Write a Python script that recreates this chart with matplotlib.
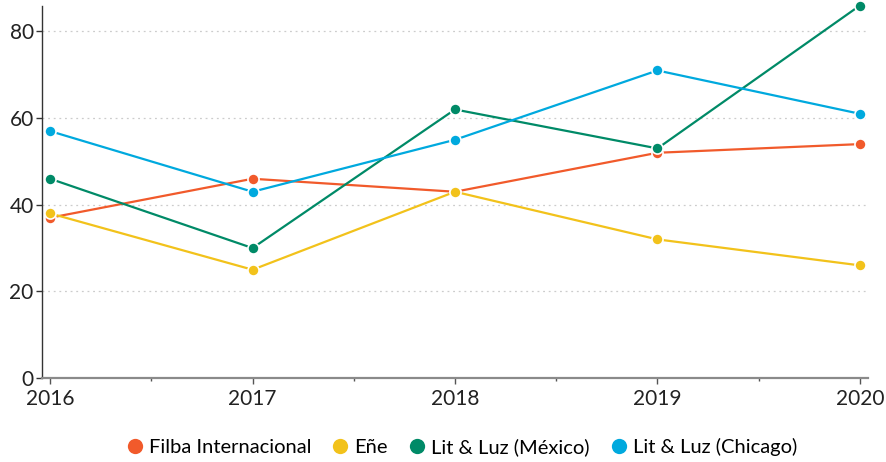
import matplotlib
matplotlib.use("Agg")
import matplotlib.pyplot as plt
from matplotlib.ticker import MultipleLocator
from matplotlib.lines import Line2D

plt.rcParams['font.family'] = ['Lato', 'DejaVu Sans']

years = [2016, 2017, 2018, 2019, 2020]
series_names = ["Filba Internacional", "Eñe", "Lit & Luz (México)", "Lit & Luz (Chicago)"]
filba = [37, 46, 43, 52, 54]
ene = [38, 25, 43, 32, 26]
mexico = [46, 30, 62, 53, 86]
chicago = [57, 43, 55, 71, 61]
colors = ["#F15A2B", "#F2C21B", "#008A67", "#00A9DE"]

W, H = 887, 462
fig = plt.figure(figsize=(W / 100, H / 100), dpi=100)
left, right, top, bottom = 42, 868, 5.5, 378
ax = fig.add_axes([left / W, 1 - bottom / H, (right - left) / W, (bottom - top) / H])

for vals, c in zip([filba, ene, mexico, chicago], colors):
    ax.plot(years, vals, color=c, lw=1.6, marker="o", ms=8,
            markerfacecolor=c, markeredgecolor="white", markeredgewidth=1.2,
            clip_on=False, zorder=3)

ax.set_xlim(2015.96, 2020.04)
ax.set_ylim(0, 86)
ax.set_xticks(years)
ax.set_xticklabels([str(y) for y in years])
ax.xaxis.set_minor_locator(MultipleLocator(0.5))
ax.set_yticks([0, 20, 40, 60, 80])

for s in ["top", "right"]:
    ax.spines[s].set_visible(False)
ax.spines["left"].set_color("#333333")
ax.spines["left"].set_linewidth(1.0)
ax.spines["bottom"].set_color("#8a8a8a")
ax.spines["bottom"].set_linewidth(1.6)

ax.tick_params(axis="x", which="major", length=4, width=1, color="#555555",
               labelsize=15, pad=4, labelcolor="#222222")
ax.tick_params(axis="x", which="minor", length=2.5, width=1, color="#555555")
ax.tick_params(axis="y", length=4, width=1, color="#333333",
               labelsize=15, pad=2, labelcolor="#222222")

for yv in [20, 40, 60, 80]:
    ax.axhline(yv, color="#cccccc", lw=0.9, ls=(0, (1.5, 3)), zorder=1)

handles = [Line2D([], [], ls="none", marker="o", ms=11, color=c, markeredgecolor="none")
           for c in colors]
fig.legend(handles, series_names, loc="center", bbox_to_anchor=(460 / W, 1 - 447 / H),
           ncol=4, frameon=False, fontsize=14.5, handletextpad=0.1, columnspacing=0.85,
           handlelength=1.2)

fig.savefig("out.png", dpi=100)
